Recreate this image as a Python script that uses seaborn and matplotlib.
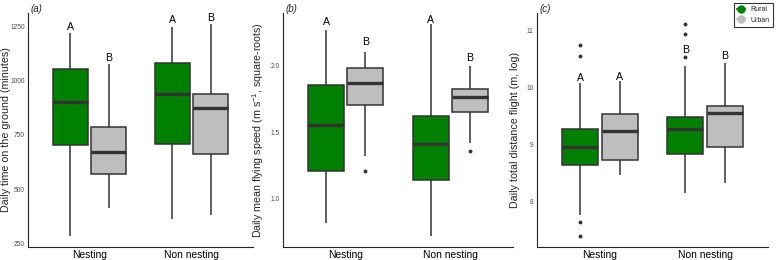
import numpy as np
import pandas as pd
import seaborn as sns
import matplotlib.pyplot as plt
from matplotlib.lines import Line2D

# ------------------------------------------------------------------------------
# Data (box summaries per group)
# group order: Nesting/Rural, Nesting/Urban, Non nesting/Rural, Non nesting/Urban
# ------------------------------------------------------------------------------
phases = ['Nesting', 'Non nesting']
sites = ['Rural', 'Urban']
site_colors = {'Rural': '#008000', 'Urban': '#BEBEBE'}

# (a) daily time on the ground, minutes
ground_low = [281, 410, 362, 382]
ground_q1 = [704, 571, 710, 664]
ground_med = [904, 671, 940, 873]
ground_q3 = [1053, 785, 1084, 940]
ground_high = [1223, 1078, 1250, 1265]
ground_out = [[], [], [], []]
ground_letters = ['A', 'B', 'A', 'B']
ground_letter_y = [1250, 1106, 1281, 1292]
ground_ticks = [250, 500, 750, 1000, 1250]

# (b) daily mean flying speed, square-roots
speed_low = [0.82, 1.32, 0.72, 1.42]
speed_q1 = [1.21, 1.70, 1.14, 1.65]
speed_med = [1.55, 1.87, 1.41, 1.76]
speed_q3 = [1.85, 1.98, 1.62, 1.82]
speed_high = [2.26, 2.10, 2.31, 1.99]
speed_out = [[], [1.21], [], [1.36]]
speed_letters = ['A', 'B', 'A', 'B']
speed_letter_y = [2.32, 2.17, 2.34, 2.05]
speed_ticks = [1.0, 1.5, 2.0]

# (c) daily total distance flight, log
dist_low = [7.77, 8.47, 8.15, 8.32]
dist_q1 = [8.64, 8.73, 8.84, 8.95]
dist_med = [8.95, 9.23, 9.27, 9.55]
dist_q3 = [9.27, 9.54, 9.48, 9.67]
dist_high = [10.08, 10.11, 10.37, 10.43]
dist_out = [[7.39, 7.65, 10.55, 10.74], [], [10.54, 10.94, 11.12], []]
dist_letters = ['A', 'A', 'B', 'B']
dist_letter_y = [10.16, 10.18, 10.65, 10.55]
dist_ticks = [8, 9, 10, 11]

groups = [(p, s) for p in phases for s in sites]


def summary_frame(low, q1, med, q3, high, out, k=20):
    # each summary value is repeated so seaborn's quartiles land on the read values
    rows = []
    for (p, s), lo, a, m, b, hi, o in zip(groups, low, q1, med, q3, high, out):
        vals = list(o) + [lo] + [a] * k + [m] * k + [b] * k + [hi]
        rows += [(p, s, v) for v in vals]
    return pd.DataFrame(rows, columns=['phase', 'site', 'value'])


panels = [
    ('(a)', 'Daily time on the ground (minutes)',
     summary_frame(ground_low, ground_q1, ground_med, ground_q3, ground_high, ground_out),
     ground_letters, ground_letter_y, ground_ticks, '{:.0f}'),
    ('(b)', r'Daily mean flying speed (m s$^{-1}$, square-roots)',
     summary_frame(speed_low, speed_q1, speed_med, speed_q3, speed_high, speed_out),
     speed_letters, speed_letter_y, speed_ticks, '{:.1f}'),
    ('(c)', 'Daily total distance flight (m, log)',
     summary_frame(dist_low, dist_q1, dist_med, dist_q3, dist_high, dist_out),
     dist_letters, dist_letter_y, dist_ticks, '{:.0f}'),
]

sns.set_theme(style='white')
plt.rcParams['font.family'] = ['Liberation Sans', 'DejaVu Sans']
plt.rcParams['mathtext.default'] = 'regular'

fig = plt.figure(figsize=(7.76, 2.6), dpi=100)
# panel boxes in pixels: left, width
panel_px = [(28, 225), (283, 230), (537, 231)]

for (left, width), (tag, ylabel, df, letters, letter_y, ticks, fmt) in zip(panel_px, panels):
    ax = fig.add_axes([left / 776, 13 / 260, width / 776, 234 / 260])
    sns.boxplot(data=df, x='phase', y='value', hue='site', order=phases,
                hue_order=sites, palette=site_colors, saturation=1,
                width=0.75, gap=0.08,
                linecolor='#333333', linewidth=1.1, fliersize=1.8,
                showcaps=False, legend=False, ax=ax,
                medianprops=dict(linewidth=2.4, color='#333333'),
                flierprops=dict(marker='o', markerfacecolor='#333333',
                                markeredgecolor='#333333'))

    # ggplot-like 5% expansion of the data range
    lo, hi = df['value'].min(), df['value'].max()
    pad = (hi - lo) * 0.05
    ax.set_ylim(lo - pad, hi + pad)
    ax.set_xlim(-0.6, 1.6)

    # significance letters above each box
    for i, (p, s) in enumerate(groups):
        xc = phases.index(p) + (-0.1875 if s == 'Rural' else 0.1875)
        ax.text(xc, letter_y[i], letters[i], ha='center', va='center',
                fontsize=7.6, color='black')

    ax.set_yticks(ticks)
    ax.set_yticklabels([fmt.format(t) for t in ticks], fontsize=4.8, color='#4D4D4D')
    ax.set_xticks([0, 1])
    ax.set_xticklabels(phases, fontsize=7.4, color='black')
    ax.tick_params(axis='both', length=1.6, width=0.6, color='#333333', pad=0.8)
    ax.set_xlabel('')
    ax.set_ylabel(ylabel, fontsize=7.7)
    ax.yaxis.set_label_coords(-16.5 / width, 0.5)
    for side in ['top', 'right']:
        ax.spines[side].set_visible(False)
    for side in ['left', 'bottom']:
        ax.spines[side].set_color('#222222')
        ax.spines[side].set_linewidth(0.8)
    ax.set_title(tag, loc='left', fontsize=7, style='italic', pad=1, x=0.01)

handles = [Line2D([0], [0], marker='o', color=site_colors[s], lw=1.5,
                  markersize=5, label=s) for s in sites]
leg = fig.legend(handles=handles, loc='upper right', bbox_to_anchor=(1.0, 1.0),
                 fontsize=5, frameon=True, fancybox=False, handlelength=1.2,
                 handletextpad=0.8, borderpad=0.4, labelspacing=0.5)
leg.get_frame().set_edgecolor('black')
leg.get_frame().set_linewidth(0.8)

fig.savefig('out.png', dpi=100)
